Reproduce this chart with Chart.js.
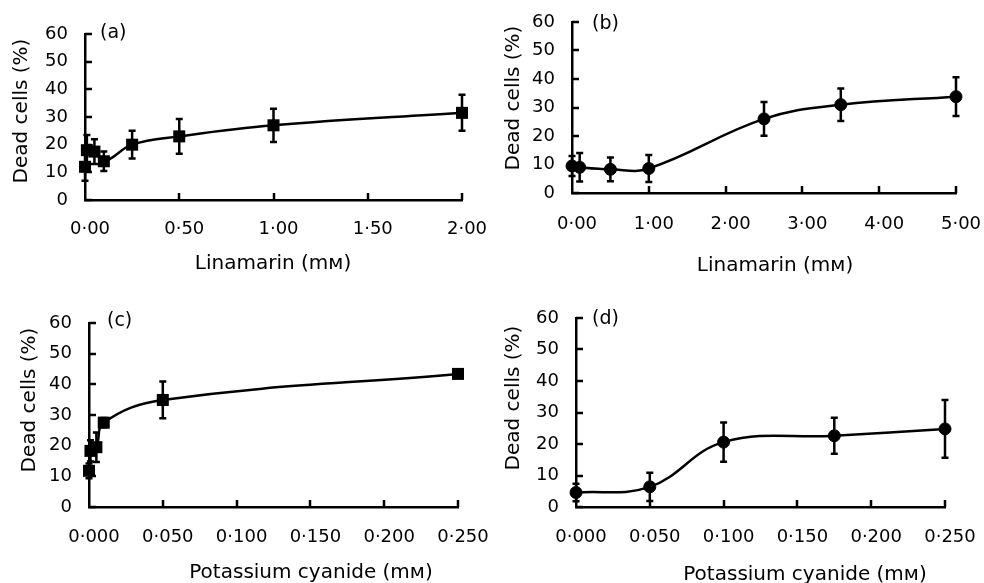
<!DOCTYPE html>
<html>
<head>
<meta charset="utf-8">
<script src="https://cdn.jsdelivr.net/npm/chart.js@4.4.1/dist/chart.umd.min.js"></script>
<style>
  html, body { margin: 0; padding: 0; background: #fff; }
  #wrap { position: relative; width: 984px; height: 583px; overflow: hidden; }
  .panel { position: absolute; }
</style>
</head>
<body>
<div id="wrap">
  <div class="panel" style="left:0;top:0;width:492px;height:290px"><canvas id="panel-a"></canvas></div>
  <div class="panel" style="left:492px;top:0;width:492px;height:290px"><canvas id="panel-b"></canvas></div>
  <div class="panel" style="left:0;top:290px;width:492px;height:293px"><canvas id="panel-c"></canvas></div>
  <div class="panel" style="left:492px;top:290px;width:492px;height:293px"><canvas id="panel-d"></canvas></div>
</div>
<script>
// (a) Linamarin, squares
const doseA = [0, 0.01, 0.05, 0.1, 0.25, 0.5, 1, 2];
const deadA = [12, 18, 17.5, 14, 20, 23, 27, 31.5];
const errA  = [5, 5.5, 4.5, 3.5, 5, 6.3, 6, 6.5];
const xTicksA  = [0, 0.5, 1, 1.5, 2];
const xLabelsA = ['0·00', '0·50', '1·00', '1·50', '2·00'];

// (b) Linamarin, circles
const doseB = [0, 0.1, 0.5, 1, 2.5, 3.5, 5];
const deadB = [9.5, 9, 8.3, 8.6, 26, 31, 33.8];
const errB  = [3.5, 5, 4.2, 4.7, 5.9, 5.7, 6.8];
const xTicksB  = [0, 1, 2, 3, 4, 5];
const xLabelsB = ['0·00', '1·00', '2·00', '3·00', '4·00', '5·00'];

// (c) Potassium cyanide, squares
const doseC = [0, 0.001, 0.005, 0.01, 0.05, 0.25];
const deadC = [11.8, 18.3, 19.5, 27.5, 34.9, 43.4];
const errC  = [2.4, 3.5, 4.8, 1.5, 6, 1];
const xTicksC  = [0, 0.05, 0.1, 0.15, 0.2, 0.25];
const xLabelsC = ['0·000', '0·050', '0·100', '0·150', '0·200', '0·250'];

// (d) Potassium cyanide, circles
const doseD = [0, 0.05, 0.1, 0.175, 0.25];
const deadD = [4.6, 6.4, 20.6, 22.6, 24.8];
const errD  = [2.8, 4.5, 6.2, 5.7, 9.2];
const xTicksD  = [0, 0.05, 0.1, 0.15, 0.2, 0.25];
const xLabelsD = ['0·000', '0·050', '0·100', '0·150', '0·200', '0·250'];

const yTicks = [0, 10, 20, 30, 40, 50, 60];
const yLabel = 'Dead cells (%)';

Chart.defaults.font.family = "'DejaVu Sans', sans-serif";
Chart.defaults.color = '#000';
Chart.defaults.animation = false;

// error bars, inner tick marks, titles and panel letter
const decor = {
  id: 'decor',
  afterDatasetsDraw(chart, args, o) {
    const { ctx, scales: { x, y } } = chart;
    const pts = chart.data.datasets[0].data;
    ctx.save();
    ctx.strokeStyle = '#000';
    ctx.lineWidth = 2.5;
    pts.forEach((p, i) => {
      const px = x.getPixelForValue(p.x);
      const top = y.getPixelForValue(p.y + o.err[i]);
      const bot = y.getPixelForValue(Math.max(0, p.y - o.err[i]));
      ctx.beginPath();
      ctx.moveTo(px, top); ctx.lineTo(px, bot);
      ctx.moveTo(px - 3.5, top); ctx.lineTo(px + 3.5, top);
      ctx.moveTo(px - 3.5, bot); ctx.lineTo(px + 3.5, bot);
      ctx.stroke();
    });
    ctx.restore();
  },
  afterDraw(chart, args, o) {
    const { ctx, chartArea: area, scales: { x, y } } = chart;
    ctx.save();
    ctx.strokeStyle = '#000';
    ctx.lineWidth = 2.5;
    ctx.beginPath();
    y.ticks.forEach(t => {
      const py = Math.round(y.getPixelForValue(t.value));
      ctx.moveTo(area.left, py); ctx.lineTo(area.left + 7, py);
    });
    x.ticks.forEach(t => {
      if (t.value === 0) return;
      const px = Math.round(x.getPixelForValue(t.value));
      ctx.moveTo(px, area.bottom); ctx.lineTo(px, area.bottom - 7);
    });
    ctx.stroke();

    ctx.fillStyle = '#000';
    ctx.textBaseline = 'middle';
    ctx.font = "19px 'DejaVu Sans', sans-serif";
    ctx.textAlign = 'left';
    ctx.fillText(o.tag, o.tagAt[0], o.tagAt[1]);

    ctx.font = "20px 'DejaVu Sans', sans-serif";
    ctx.textAlign = 'center';
    ctx.fillText(o.xTitle, o.xTitleAt[0], o.xTitleAt[1]);

    ctx.translate(o.yTitleAt[0], o.yTitleAt[1]);
    ctx.rotate(-Math.PI / 2);
    ctx.fillText(yLabel, 0, 0);
    ctx.restore();
  }
};

function makePanel(id, dose, dead, err, xTicks, xLabels, box, marker) {
  const [w, h, left, right, top, bottom] = box.size;
  const square = marker === 'rect';
  return new Chart(document.getElementById(id), {
    type: 'line',
    data: {
      datasets: [{
        data: dose.map((d, i) => ({ x: d, y: dead[i] })),
        borderColor: '#000',
        borderWidth: 2.5,
        tension: 0.4,
        pointStyle: marker,
        pointRadius: square ? 8.5 : 6,
        pointBorderWidth: square ? 0 : 1,
        pointBackgroundColor: '#000',
        pointBorderColor: '#000',
        clip: false
      }]
    },
    options: {
      responsive: true,
      maintainAspectRatio: false,
      layout: { padding: { left: 0, top: top, right: w - right, bottom: 0 } },
      plugins: {
        legend: { display: false },
        tooltip: { enabled: false },
        decor: {
          err: err,
          tag: box.tag, tagAt: box.tagAt,
          xTitle: box.xTitle, xTitleAt: box.xTitleAt,
          yTitleAt: box.yTitleAt
        }
      },
      scales: {
        x: {
          type: 'linear',
          min: xTicks[0],
          max: xTicks[xTicks.length - 1],
          afterBuildTicks: s => { s.ticks = xTicks.map(v => ({ value: v })); },
          afterFit: s => { s.height = h - bottom; s.paddingLeft = 0; s.paddingRight = 0; },
          grid: { drawOnChartArea: false, drawTicks: false },
          border: { color: '#000', width: 2.5 },
          ticks: {
            callback: (v, i) => xLabels[i],
            font: { size: 18 },
            padding: box.xPad,
            labelOffset: 5,
            maxRotation: 0,
            autoSkip: false
          }
        },
        y: {
          min: 0,
          max: 60,
          afterBuildTicks: s => { s.ticks = yTicks.map(v => ({ value: v })); },
          afterFit: s => { s.width = left; s.paddingTop = 0; s.paddingBottom = 0; },
          grid: { drawOnChartArea: false, drawTicks: false },
          border: { color: '#000', width: 2.5 },
          ticks: { font: { size: 18 }, padding: 17 }
        }
      }
    },
    plugins: [decor]
  });
}

makePanel('panel-a', doseA, deadA, errA, xTicksA, xLabelsA, {
  size: [492, 290, 85, 462, 34, 200], xPad: 19,
  tag: '(a)', tagAt: [100, 33],
  xTitle: 'Linamarin (mᴍ)', xTitleAt: [273, 264], yTitleAt: [22, 111]
}, 'rect');

makePanel('panel-b', doseB, deadB, errB, xTicksB, xLabelsB, {
  size: [492, 290, 80, 464, 22, 193], xPad: 21,
  tag: '(b)', tagAt: [100, 24],
  xTitle: 'Linamarin (mᴍ)', xTitleAt: [283, 266], yTitleAt: [22, 98]
}, 'circle');

makePanel('panel-c', doseC, deadC, errC, xTicksC, xLabelsC, {
  size: [492, 293, 89, 458, 33, 217], xPad: 20,
  tag: '(c)', tagAt: [107, 31],
  xTitle: 'Potassium cyanide (mᴍ)', xTitleAt: [311, 283], yTitleAt: [30, 110]
}, 'rect');

makePanel('panel-d', doseD, deadD, errD, xTicksD, xLabelsD, {
  size: [492, 293, 84, 453, 28, 217], xPad: 20,
  tag: '(d)', tagAt: [100, 29],
  xTitle: 'Potassium cyanide (mᴍ)', xTitleAt: [313, 285], yTitleAt: [22, 108]
}, 'circle');
</script>
</body>
</html>
